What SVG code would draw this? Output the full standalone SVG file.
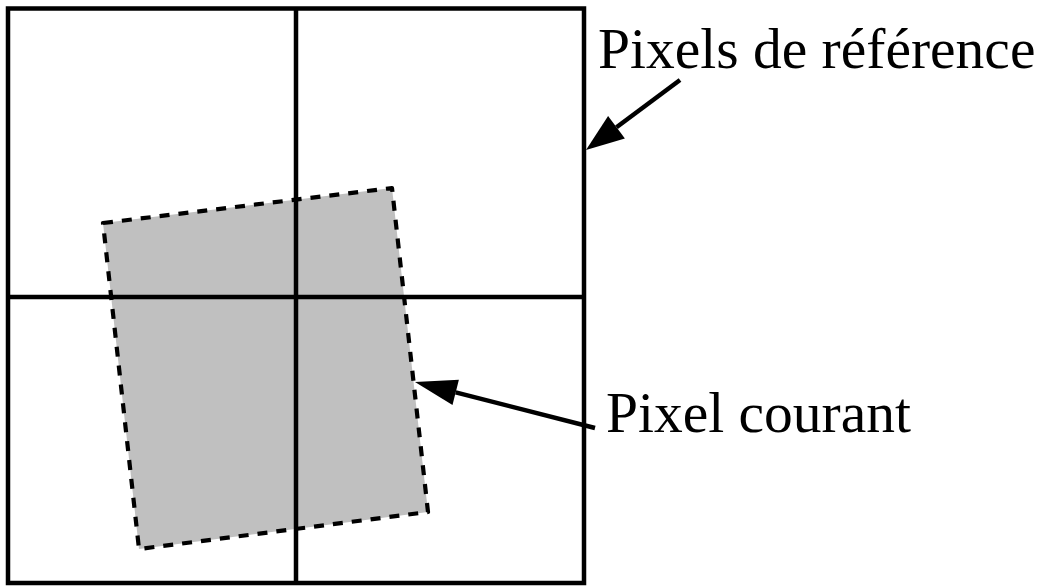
<svg xmlns="http://www.w3.org/2000/svg" width="1038" height="586" viewBox="0 0 1038 586">
  <style>
    .grid { fill: none; stroke: #000; stroke-width: 4.5; }
    .cur { fill: #c0c0c0; stroke: #000; stroke-width: 4.2; stroke-dasharray: 10 9; stroke-linejoin: round; }
    .lbl { font-family: "Liberation Serif", "Times New Roman", serif; font-size: 57.5px; fill: #000; }
    .arr { stroke: #000; stroke-width: 4.5; fill: none; }
    .head { fill: #000; stroke: none; }
  </style>
  <rect width="1038" height="586" fill="#fff"/>
  <g id="pixel-courant">
    <polygon class="cur" points="103,223 392,188 428,512 139,549"/>
  </g>
  <g id="pixels-reference">
    <rect class="grid" x="8" y="8.5" width="576" height="574.5"/>
    <line class="grid" x1="296" y1="8.5" x2="296" y2="583"/>
    <line class="grid" x1="8" y1="297" x2="584" y2="297"/>
  </g>
  <g id="connectors">
    <line class="arr" x1="680" y1="80" x2="616.5" y2="127.3"/>
    <polygon class="head" points="586,150 624.9,138.5 608.1,116.1"/>
    <line class="arr" x1="595" y1="428" x2="455.7" y2="392.4"/>
    <polygon class="head" points="415,382 458.9,379.8 452.5,405"/>
  </g>
  <g id="label-reference">
    <text class="lbl" x="598" y="68">Pixels de référence</text>
  </g>
  <g id="label-courant">
    <text class="lbl" x="606" y="432">Pixel courant</text>
  </g>
</svg>
